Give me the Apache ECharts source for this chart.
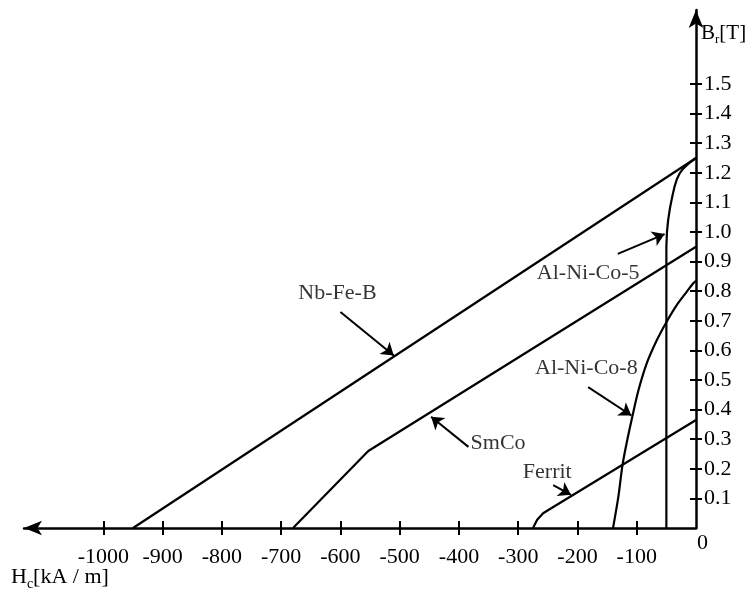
<!DOCTYPE html>
<html>
<head>
<meta charset="utf-8">
<script src="https://cdn.jsdelivr.net/npm/echarts@6/dist/echarts.min.js"></script>
<style>
  html, body { margin: 0; padding: 0; background: #fff; }
  #chart { width: 755px; height: 603px; }
</style>
</head>
<body>
<div id="chart"></div>
<script>
// tick values of the two axes
const hTicks = [-1000, -900, -800, -700, -600, -500, -400, -300, -200, -100];
const bTicks = [0.1, 0.2, 0.3, 0.4, 0.5, 0.6, 0.7, 0.8, 0.9, 1.0, 1.1, 1.2, 1.3, 1.4, 1.5];

// demagnetisation curves [H, B]
const nbFeB = [[-950, 0], [0, 1.25]];
const smCo = [[-680, 0], [-553, 0.26], [0, 0.95]];
const ferrit = [[-275, 0], [-268, 0.028], [-258, 0.05], [-245, 0.066], [0, 0.365]];
const alNiCo5 = [[-50, 0], [-50, 0.95], [-49, 1.0], [-47, 1.04], [-44, 1.08], [-40, 1.12],
  [-36, 1.155], [-32, 1.18], [-27, 1.2], [-22, 1.213], [-16, 1.225], [-10, 1.235], [0, 1.25]];
const alNiCo8 = [[-140, 0], [-131, 0.106], [-124, 0.213], [-116, 0.297], [-107.5, 0.376],
  [-97, 0.466], [-83, 0.557], [-66, 0.635], [-49.5, 0.697], [-32.5, 0.753], [-15.7, 0.798],
  [-4.6, 0.827], [0, 0.835]];

// annotation labels [H, B, text] and arrows [fromH, fromB, toH, toB]
const labelPos = [
  [-605, 0.794, 'Nb-Fe-B'],
  [-334, 0.287, 'SmCo'],
  [-182, 0.861, 'Al-Ni-Co-5'],
  [-185, 0.54, 'Al-Ni-Co-8'],
  [-251, 0.189, 'Ferrit']
];
const arrowPos = [
  [-600, 0.73, -510, 0.583],
  [-384, 0.274, -447, 0.376],
  [-132, 0.926, -53, 0.993],
  [-182, 0.476, -109, 0.38],
  [-241, 0.145, -211, 0.112]
];

const serif = '"Liberation Serif", "DejaVu Serif", serif';
const ink = '#000';

function curve(data, smooth) {
  return {
    type: 'line',
    data: data,
    showSymbol: false,
    smooth: smooth || false,
    silent: true,
    lineStyle: { color: ink, width: 2.2 },
    xAxisIndex: 0,
    yAxisIndex: 0
  };
}

const chart = echarts.init(document.getElementById('chart'));

const option = {
  animation: false,
  backgroundColor: '#fff',
  grid: { left: 24, right: 59, top: 10, bottom: 75 },
  xAxis: [
    {
      type: 'value', position: 'bottom', min: -1134, max: 0,
      axisLine: { show: true, onZero: false, symbol: ['arrow', 'none'], symbolSize: [11, 18],
        lineStyle: { color: ink, width: 2.5 } },
      axisTick: { show: true, customValues: hTicks, length: 7, lineStyle: { color: ink, width: 2 } },
      axisLabel: { customValues: hTicks, margin: 18, fontFamily: serif, fontSize: 22, color: ink,
        formatter: v => String(v) },
      splitLine: { show: false }
    },
    {
      type: 'value', position: 'bottom', min: -1134, max: 0,
      axisLine: { show: false, onZero: false },
      axisTick: { show: true, inside: true, customValues: hTicks, length: 7, lineStyle: { color: ink, width: 2 } },
      axisLabel: { show: false },
      splitLine: { show: false }
    }
  ],
  yAxis: [
    {
      type: 'value', position: 'right', min: 0, max: 1.75,
      axisLine: { show: true, onZero: false, symbol: ['none', 'arrow'], symbolSize: [11, 18],
        lineStyle: { color: ink, width: 2.5 } },
      axisTick: { show: true, customValues: bTicks, length: 6, lineStyle: { color: ink, width: 2 } },
      axisLabel: { customValues: bTicks, margin: 8, fontFamily: serif, fontSize: 22, color: ink,
        formatter: v => v.toFixed(1) },
      splitLine: { show: false }
    },
    {
      type: 'value', position: 'right', min: 0, max: 1.75,
      axisLine: { show: false, onZero: false },
      axisTick: { show: true, inside: true, customValues: bTicks, length: 6, lineStyle: { color: ink, width: 2 } },
      axisLabel: { show: false },
      splitLine: { show: false }
    }
  ],
  series: [
    curve(nbFeB),
    curve(smCo),
    curve(ferrit),
    curve(alNiCo5),
    curve(alNiCo8, 0.3),
    {
      type: 'lines',
      coordinateSystem: 'cartesian2d',
      xAxisIndex: 0,
      yAxisIndex: 0,
      silent: true,
      symbol: ['none', 'arrow'],
      symbolSize: 12,
      lineStyle: { color: ink, width: 2, opacity: 1 },
      data: arrowPos.map(a => ({ coords: [[a[0], a[1]], [a[2], a[3]]] }))
    },
    {
      type: 'scatter',
      xAxisIndex: 0,
      yAxisIndex: 0,
      silent: true,
      symbolSize: 1,
      itemStyle: { color: 'rgba(0,0,0,0)' },
      label: {
        show: true, position: 'inside', fontFamily: serif, fontSize: 22, color: ink,
        formatter: p => p.data[2]
      },
      data: labelPos
    }
  ],
  graphic: [
    {
      type: 'text', left: 701, top: 23,
      style: {
        text: '{m|B}{s|r}{m|[T]}',
        rich: {
          m: { fontFamily: serif, fontSize: 21, fill: ink },
          s: { fontFamily: serif, fontSize: 13, fill: ink, padding: [13, 0, 0, 0] }
        }
      }
    },
    {
      type: 'text', left: 11, top: 566,
      style: {
        text: '{m|H}{s|c}{m|[kA / m]}',
        rich: {
          m: { fontFamily: serif, fontSize: 22, fill: ink },
          s: { fontFamily: serif, fontSize: 14, fill: ink, padding: [14, 0, 0, 0] }
        }
      }
    },
    {
      type: 'text', left: 697, top: 532,
      style: { text: '0', fontFamily: serif, fontSize: 22, fill: ink }
    }
  ]
};

chart.setOption(option);
</script>
</body>
</html>
